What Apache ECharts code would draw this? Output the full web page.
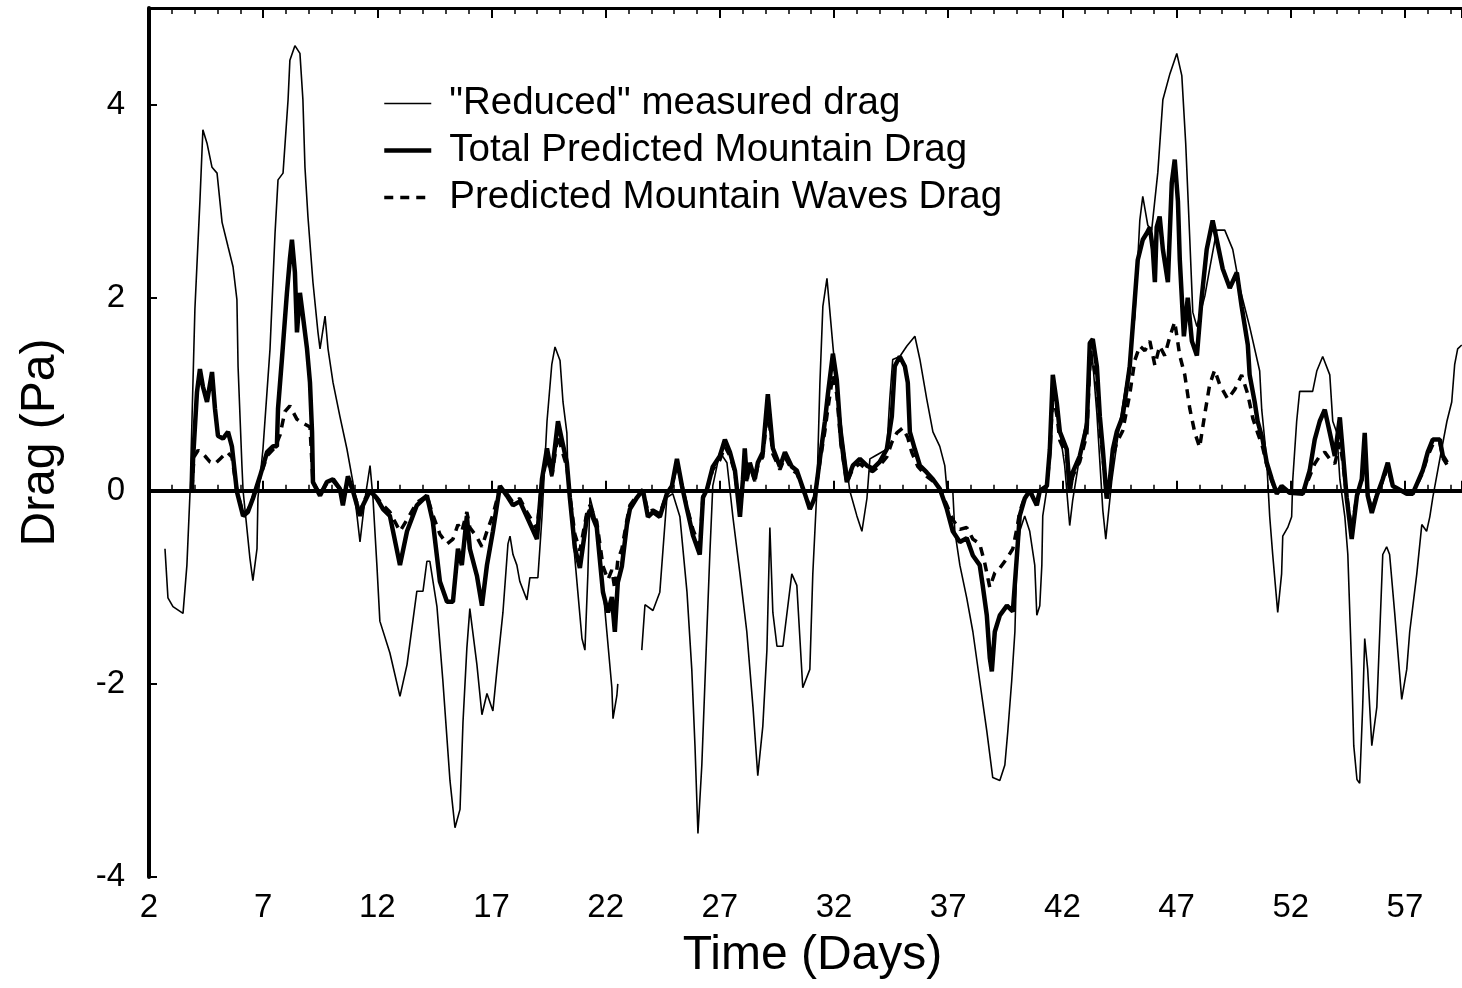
<!DOCTYPE html>
<html>
<head>
<meta charset="utf-8">
<script src="https://cdn.jsdelivr.net/npm/echarts@6/dist/echarts.min.js"></script>
<style>
  html, body { margin: 0; padding: 0; background: #fff; }
  #chart { width: 1462px; height: 988px; }
</style>
</head>
<body>
<div id="chart"></div>
<script>
// Time axis starts at day 2; tick labels every 5 days.
const DAY_ORIGIN = 2;
const DAY_END = 59.5;
const X_TICK_STEP = 5;
const DRAG_MIN = -4;
const DRAG_MAX = 5;
const DRAG_STEP = 2;

// "Reduced" measured drag (Pa); null marks the gap in the record.
const measuredDays = [2.70,2.83,3.05,3.49,3.66,3.80,4.01,4.23,4.36,4.54,4.76,4.98,5.20,5.46,5.68,5.85,5.90,6.07,6.12,6.42,6.55,6.73,6.77,6.99,7.30,7.52,7.65,7.87,8.09,8.17,8.39,8.61,8.74,8.83,8.96,9.18,9.40,9.49,9.71,9.84,10.06,10.36,10.67,10.93,11.11,11.24,11.46,11.68,11.81,11.98,12.11,12.55,12.99,13.30,13.73,14.00,14.17,14.30,14.61,14.87,15.18,15.40,15.62,15.75,15.92,16.05,16.36,16.58,16.80,17.06,17.24,17.50,17.72,17.81,17.94,18.11,18.24,18.55,18.68,19.03,19.21,19.43,19.64,19.78,20.00,20.13,20.30,20.35,20.56,20.78,20.96,21.09,21.22,21.31,21.53,21.75,22.05,22.27,22.32,22.49,22.53,23.05,23.58,23.72,24.07,24.37,24.68,24.94,25.25,25.56,25.77,25.91,26.04,26.21,26.43,26.56,26.69,27.00,27.31,27.57,27.88,28.18,28.45,28.66,28.88,29.06,29.19,29.32,29.50,29.76,30.15,30.37,30.63,30.94,31.07,31.25,31.38,31.51,31.69,31.95,32.17,32.69,33.00,33.22,33.44,33.57,33.79,34.31,34.44,34.57,34.88,35.19,35.54,35.76,36.06,36.33,36.63,36.85,36.94,37.20,37.29,37.51,37.81,38.08,38.38,38.69,38.95,39.26,39.48,39.61,39.78,39.92,40.00,40.13,40.35,40.57,40.79,40.88,41.01,41.10,41.14,41.32,41.58,41.89,42.10,42.32,42.45,42.76,43.07,43.29,43.51,43.77,43.90,44.16,44.51,44.86,45.17,45.39,45.52,45.74,45.91,46.18,46.40,46.71,47.01,47.23,47.40,47.58,47.71,47.89,48.24,48.45,48.76,49.11,49.46,49.77,50.20,50.64,50.73,50.86,50.95,51.08,51.21,51.43,51.60,51.65,51.87,52.04,52.09,52.26,52.39,52.96,53.14,53.40,53.71,53.84,54.02,54.15,54.37,54.50,54.67,54.76,54.90,55.02,55.15,55.24,55.37,55.55,55.77,55.90,56.03,56.20,56.33,56.55,56.86,57.08,57.21,57.52,57.74,57.95,58.09,58.22,58.53,58.84,59.05,59.18,59.31,59.49];
const measuredDrag = [-0.60,-1.11,-1.20,-1.27,-0.77,0.00,1.88,3.00,3.74,3.60,3.35,3.29,2.78,2.53,2.32,1.98,1.29,0.26,0.00,-0.70,-0.93,-0.60,-0.08,0.43,1.47,2.67,3.22,3.29,4.05,4.46,4.61,4.53,4.05,3.35,2.84,2.16,1.64,1.47,1.81,1.47,1.12,0.77,0.43,0.09,-0.26,-0.53,-0.08,0.26,-0.08,-0.77,-1.35,-1.68,-2.13,-1.80,-1.04,-1.04,-0.73,-0.73,-1.20,-1.97,-3.00,-3.49,-3.30,-2.40,-1.63,-1.22,-1.80,-2.32,-2.10,-2.28,-1.85,-1.26,-0.55,-0.47,-0.66,-0.77,-0.94,-1.13,-0.90,-0.90,-0.27,0.72,1.31,1.49,1.35,0.92,0.60,0.12,-0.46,-1.05,-1.53,-1.65,-0.86,-0.07,-0.27,-0.66,-1.46,-2.04,-2.36,-2.12,-2.00,null,-1.65,-1.18,-1.24,-1.05,-0.07,-0.03,-0.27,-1.05,-1.85,-2.64,-3.55,-2.84,-1.46,-0.66,0.05,0.40,0.29,-0.27,-0.86,-1.46,-2.24,-2.95,-2.44,-1.65,-0.38,-1.26,-1.61,-1.61,-0.86,-0.98,-2.04,-1.85,-0.86,0.01,1.11,1.91,2.20,1.50,0.95,0.00,-0.26,-0.42,-0.08,0.33,0.36,0.43,0.95,1.36,1.39,1.50,1.60,1.36,0.95,0.61,0.46,0.26,0.02,0.00,-0.42,-0.77,-1.11,-1.46,-1.97,-2.49,-2.97,-3.00,-2.84,-2.49,-1.97,-1.46,-0.77,-0.42,-0.26,-0.42,-0.77,-1.29,-1.19,-0.77,-0.26,0.02,1.15,0.61,0.26,-0.36,-0.10,0.36,0.77,1.45,0.80,-0.20,-0.50,0.10,0.70,1.20,1.80,2.80,3.05,2.75,2.70,3.30,4.05,4.32,4.53,4.30,3.60,2.60,1.85,1.70,2.02,2.30,2.70,2.70,2.50,2.10,1.70,1.24,0.84,0.53,0.29,-0.27,-0.66,-1.26,-0.86,-0.47,-0.38,-0.27,0.12,0.72,1.03,1.03,1.24,1.39,1.20,0.72,0.60,0.12,-0.27,-0.66,-1.85,-2.64,-2.99,-3.03,-2.24,-1.53,-1.85,-2.64,-2.24,-1.46,-0.66,-0.58,-0.66,-1.26,-2.16,-1.85,-1.46,-0.86,-0.35,-0.42,-0.27,-0.07,0.33,0.72,0.92,1.31,1.47,1.51];

// Total predicted mountain drag (Pa)
const totalDays = [3.88,3.93,4.10,4.23,4.36,4.54,4.76,4.89,5.02,5.24,5.46,5.63,5.85,6.12,6.33,6.55,6.86,7.17,7.43,7.60,7.65,7.82,8.04,8.17,8.26,8.39,8.48,8.61,8.74,8.92,9.05,9.14,9.18,9.49,9.79,10.06,10.36,10.49,10.71,10.93,11.24,11.37,11.68,11.98,12.25,12.55,12.99,13.30,13.73,14.17,14.43,14.74,15.05,15.31,15.53,15.70,15.92,16.05,16.36,16.58,16.80,17.06,17.37,17.67,17.94,18.24,18.55,18.99,19.21,19.43,19.64,19.91,20.08,20.30,20.43,20.65,20.87,21.18,21.31,21.61,21.88,22.10,22.27,22.40,22.53,22.71,22.93,23.06,23.37,23.63,23.85,24.07,24.37,24.68,24.90,25.12,25.34,25.56,25.82,26.12,26.26,26.43,26.69,27.00,27.22,27.44,27.66,27.88,28.01,28.09,28.18,28.31,28.53,28.66,28.88,29.10,29.32,29.63,29.85,30.15,30.37,30.72,30.94,31.16,31.38,31.60,31.73,31.95,32.12,32.30,32.56,32.82,33.13,33.44,33.70,34.00,34.31,34.53,34.66,34.88,35.10,35.23,35.32,35.54,35.76,36.06,36.33,36.63,36.94,37.20,37.51,37.81,38.08,38.38,38.51,38.69,38.82,38.91,39.04,39.26,39.57,39.83,40.00,40.13,40.35,40.57,40.88,41.01,41.32,41.45,41.58,41.76,41.89,42.19,42.32,42.45,42.76,43.07,43.20,43.33,43.51,43.64,43.77,43.94,44.07,44.21,44.38,44.64,44.95,45.17,45.30,45.52,45.70,45.83,45.96,46.05,46.13,46.26,46.40,46.62,46.79,46.92,47.06,47.14,47.32,47.49,47.67,47.89,48.10,48.32,48.58,48.76,49.02,49.33,49.64,49.85,50.12,50.20,50.42,50.55,50.77,50.95,51.17,51.39,51.60,51.95,52.53,52.83,53.05,53.27,53.49,53.71,53.93,54.15,54.28,54.45,54.67,54.90,55.11,55.24,55.37,55.55,55.77,56.03,56.25,56.47,56.77,57.08,57.34,57.56,57.78,58.00,58.22,58.53,58.66,58.84];
const totalDrag = [0.02,0.33,1.02,1.26,1.08,0.92,1.23,0.85,0.57,0.54,0.61,0.46,-0.01,-0.26,-0.22,-0.08,0.15,0.40,0.46,0.46,0.85,1.36,2.05,2.40,2.60,2.26,1.64,2.05,1.81,1.47,1.12,0.61,0.09,-0.05,0.09,0.12,0.02,-0.15,0.15,0.00,-0.26,-0.15,0.00,-0.08,-0.19,-0.26,-0.77,-0.42,-0.15,-0.05,-0.32,-0.94,-1.15,-1.15,-0.60,-0.77,-0.26,-0.60,-0.88,-1.19,-0.77,-0.42,0.05,-0.05,-0.15,-0.11,-0.27,-0.50,0.12,0.44,0.17,0.72,0.53,0.29,-0.07,-0.59,-0.80,-0.27,-0.20,-0.38,-1.05,-1.26,-1.10,-1.46,-0.95,-0.78,-0.35,-0.19,-0.07,0.01,-0.27,-0.22,-0.27,-0.03,0.05,0.33,0.05,-0.19,-0.46,-0.66,-0.07,0.01,0.25,0.36,0.53,0.40,0.21,-0.27,0.12,0.44,0.12,0.29,0.12,0.29,0.40,1.00,0.44,0.25,0.40,0.25,0.21,-0.03,-0.19,-0.07,0.33,0.72,1.00,1.42,1.15,0.55,0.09,0.26,0.33,0.26,0.23,0.30,0.43,0.77,1.29,1.39,1.29,1.12,0.61,0.43,0.26,0.19,0.12,0.02,-0.19,-0.42,-0.53,-0.49,-0.67,-0.77,-0.98,-1.29,-1.73,-1.87,-1.46,-1.29,-1.19,-1.25,-0.70,-0.26,-0.08,0.00,-0.15,0.00,0.05,0.43,1.20,0.90,0.61,0.43,0.00,0.19,0.36,0.67,1.53,1.57,1.29,0.77,0.43,-0.08,0.09,0.43,0.61,0.77,1.29,1.98,2.39,2.60,2.67,2.73,2.50,2.16,2.73,2.84,2.50,2.16,3.19,3.43,3.00,2.40,1.60,2.00,1.55,1.40,2.00,2.50,2.80,2.60,2.30,2.10,2.26,1.91,1.51,1.20,0.92,0.72,0.53,0.29,0.12,-0.03,0.05,-0.02,-0.03,0.21,0.53,0.72,0.84,0.60,0.36,0.76,0.40,-0.07,-0.50,-0.05,0.12,0.60,-0.05,-0.23,-0.05,0.12,0.29,0.05,0.01,-0.03,-0.03,0.09,0.21,0.40,0.53,0.53,0.36,0.29];

// Predicted mountain waves drag (Pa)
const wavesDays = [3.88,3.97,4.15,4.45,4.67,4.89,5.11,5.42,5.63,5.85,6.12,6.33,6.55,6.86,7.17,7.52,7.74,7.95,8.17,8.48,8.74,9.05,9.18,9.49,9.79,10.06,10.36,10.49,10.71,10.93,11.24,11.37,11.68,11.98,12.25,12.55,12.99,13.30,13.73,14.17,14.43,14.74,15.05,15.31,15.53,15.70,15.92,16.05,16.36,16.58,16.80,17.06,17.37,17.67,17.94,18.24,18.55,18.99,19.21,19.43,19.64,19.91,20.08,20.30,20.43,20.65,20.87,21.18,21.31,21.61,21.88,22.10,22.27,22.40,22.53,22.71,22.93,23.06,23.37,23.63,23.85,24.07,24.37,24.68,24.90,25.12,25.34,25.56,25.82,26.12,26.26,26.43,26.69,27.00,27.22,27.44,27.66,27.88,28.01,28.09,28.18,28.31,28.53,28.66,28.88,29.10,29.32,29.63,29.85,30.15,30.37,30.72,30.94,31.16,31.38,31.60,31.73,31.95,32.12,32.30,32.56,32.82,33.13,33.44,33.70,34.00,34.31,34.53,34.75,35.01,35.23,35.40,35.67,36.06,36.33,36.63,36.94,37.20,37.51,37.81,38.08,38.38,38.60,38.82,39.04,39.26,39.57,39.83,40.00,40.13,40.35,40.57,40.88,41.01,41.32,41.45,41.58,41.76,41.89,42.19,42.32,42.45,42.76,43.07,43.20,43.33,43.51,43.64,43.77,43.94,44.07,44.21,44.38,44.64,44.95,45.17,45.39,45.61,45.83,46.05,46.26,46.48,46.71,46.92,47.14,47.36,47.58,47.80,48.01,48.24,48.45,48.67,48.89,49.24,49.55,49.85,50.12,50.34,50.55,50.77,50.95,51.17,51.39,51.60,51.95,52.53,52.83,53.05,53.27,53.49,53.71,53.93,54.15,54.28,54.45,54.67,54.90,55.11,55.24,55.37,55.55,55.77,56.03,56.25,56.47,56.77,57.08,57.34,57.56,57.78,58.00,58.22,58.53,58.66,58.84];
const wavesDrag = [0.02,0.35,0.42,0.36,0.30,0.28,0.33,0.40,0.35,0.00,-0.24,-0.20,-0.08,0.14,0.36,0.45,0.58,0.82,0.88,0.74,0.70,0.66,0.09,-0.04,0.08,0.10,0.02,-0.12,0.12,0.00,-0.22,-0.12,0.00,-0.07,-0.15,-0.22,-0.42,-0.30,-0.12,-0.05,-0.25,-0.45,-0.55,-0.50,-0.35,-0.42,-0.22,-0.38,-0.48,-0.58,-0.42,-0.25,0.03,-0.03,-0.12,-0.08,-0.22,-0.40,0.10,0.35,0.15,0.58,0.42,0.25,-0.05,-0.45,-0.62,-0.22,-0.15,-0.32,-0.78,-0.92,-0.82,-1.02,-0.72,-0.60,-0.30,-0.15,-0.05,0.01,-0.22,-0.20,-0.24,-0.03,0.05,0.28,0.05,-0.17,-0.40,-0.58,-0.06,0.01,0.22,0.32,0.46,0.36,0.19,-0.22,0.10,0.38,0.10,0.26,0.10,0.26,0.35,0.85,0.38,0.22,0.35,0.22,0.18,-0.03,-0.17,-0.06,0.30,0.62,0.85,1.20,1.00,0.48,0.08,0.23,0.28,0.22,0.20,0.26,0.35,0.50,0.60,0.65,0.55,0.40,0.25,0.15,0.10,0.02,-0.15,-0.30,-0.40,-0.38,-0.50,-0.55,-0.75,-1.00,-0.85,-0.80,-0.70,-0.60,-0.40,-0.22,-0.07,0.00,-0.12,0.00,0.05,0.38,1.00,0.78,0.52,0.36,0.00,0.15,0.30,0.58,1.30,1.35,1.10,0.65,0.36,-0.06,0.08,0.35,0.50,0.62,1.00,1.35,1.50,1.45,1.55,1.30,1.50,1.40,1.60,1.75,1.40,1.20,0.85,0.60,0.45,0.80,1.10,1.25,1.10,0.95,1.05,1.20,1.00,0.75,0.60,0.45,0.27,0.10,-0.03,0.04,-0.02,-0.03,0.15,0.28,0.36,0.40,0.33,0.28,0.50,0.30,-0.06,-0.40,-0.05,0.10,0.50,-0.04,-0.20,-0.04,0.10,0.25,0.04,0.01,-0.03,-0.03,0.08,0.19,0.36,0.48,0.50,0.34,0.27];

// Pair each day with its value, measured from the start of the time axis.
function pairs(days, values) {
  return days.map((d, i) => [d - DAY_ORIGIN, values[i]]);
}

const FONT = '"Liberation Sans", Arial, Helvetica, sans-serif';
const INK = '#000';

// Stroke styles shared by each series and its legend entry.
const MEASURED_STROKE = { color: INK, width: 1.6 };
const TOTAL_STROKE = { color: INK, width: 4.5 };
const WAVES_STROKE = { color: INK, width: 3.5, type: [9, 7] };

const chart = echarts.init(document.getElementById('chart'), null, { renderer: 'canvas' });

const xCommon = {
  type: 'value',
  min: 0,
  max: DAY_END - DAY_ORIGIN,
  interval: X_TICK_STEP,
  splitLine: { show: false },
  minorSplitLine: { show: false },
  axisTick: { show: true, inside: true, length: 10, lineStyle: { color: INK, width: 2 } },
  minorTick: { show: true, splitNumber: 5, length: 6, lineStyle: { color: INK, width: 1.5 } }
};

chart.setOption({
  animation: false,
  backgroundColor: '#fff',
  grid: { left: 149, right: 0, top: 8, bottom: 111, containLabel: false },
  legend: {
    orient: 'vertical',
    left: 377,
    top: 79,
    itemWidth: 47,
    itemHeight: 20,
    itemGap: 8,
    itemStyle: { opacity: 0 },
    textStyle: { fontFamily: FONT, fontSize: 38.5, color: INK, padding: [0, 0, 0, 13] },
    data: [
      { name: '"Reduced" measured drag', lineStyle: MEASURED_STROKE },
      { name: 'Total Predicted Mountain Drag', lineStyle: TOTAL_STROKE },
      { name: 'Predicted Mountain Waves Drag', lineStyle: WAVES_STROKE }
    ]
  },
  xAxis: [
    Object.assign({}, xCommon, {
      position: 'bottom',
      name: 'Time (Days)',
      nameLocation: 'middle',
      nameGap: 55,
      nameTextStyle: { fontFamily: FONT, fontSize: 48, color: INK, padding: [0, 0, 0, 14] },
      axisLine: { show: true, lineStyle: { color: INK, width: 4 } },
      axisLabel: {
        show: true, margin: 14, showMaxLabel: false,
        fontFamily: FONT, fontSize: 33, color: INK,
        formatter: v => String(v + DAY_ORIGIN)
      }
    }),
    Object.assign({}, xCommon, {
      position: 'top',
      axisLine: { show: true, lineStyle: { color: INK, width: 3 } },
      axisLabel: { show: false }
    })
  ],
  yAxis: {
    type: 'value',
    min: DRAG_MIN,
    max: DRAG_MAX,
    interval: DRAG_STEP,
    name: 'Drag (Pa)',
    nameLocation: 'middle',
    nameGap: 84,
    nameRotate: 90,
    nameTextStyle: { fontFamily: FONT, fontSize: 48, color: INK },
    axisLine: { show: true, lineStyle: { color: INK, width: 4 } },
    axisTick: { show: true, inside: true, length: 8, lineStyle: { color: INK, width: 2 } },
    splitLine: { show: false },
    axisLabel: {
      margin: 24, showMaxLabel: false,
      fontFamily: FONT, fontSize: 33, color: INK
    }
  },
  series: [
    {
      name: '"Reduced" measured drag',
      type: 'line',
      data: pairs(measuredDays, measuredDrag),
      symbol: 'none',
      connectNulls: false,
      lineStyle: MEASURED_STROKE,
      itemStyle: { color: INK },
      markLine: {
        silent: true,
        symbol: 'none',
        label: { show: false },
        lineStyle: { color: INK, width: 1.4, type: 'solid' },
        data: [{ yAxis: 0 }]
      },
      z: 3
    },
    {
      name: 'Total Predicted Mountain Drag',
      type: 'line',
      data: pairs(totalDays, totalDrag),
      symbol: 'none',
      lineStyle: TOTAL_STROKE,
      itemStyle: { color: INK },
      z: 4
    },
    {
      name: 'Predicted Mountain Waves Drag',
      type: 'line',
      data: pairs(wavesDays, wavesDrag),
      symbol: 'none',
      lineStyle: WAVES_STROKE,
      itemStyle: { color: INK },
      z: 5
    }
  ]
});
</script>
</body>
</html>
